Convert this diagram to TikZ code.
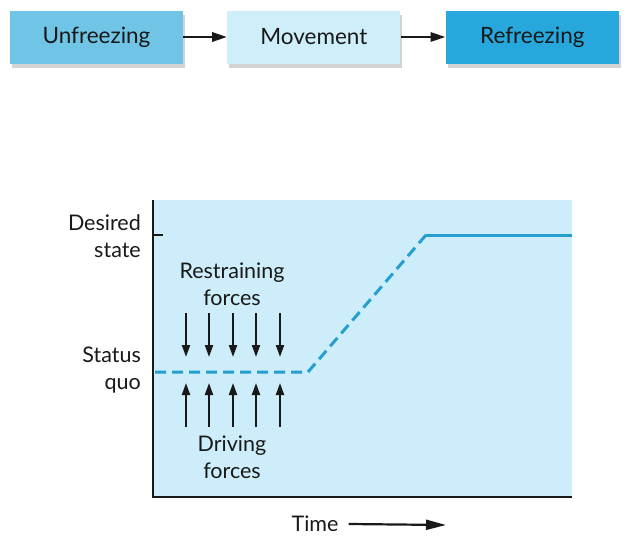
\documentclass[tikz,border=0pt]{standalone}
\usepackage{fontspec}
\setmainfont{Lato}
\usepackage{tikz}
\usetikzlibrary{arrows.meta,positioning,shadows}
\definecolor{unfreezeblue}{RGB}{112,196,230}
\definecolor{moveblue}{RGB}{206,238,250}
\definecolor{refreezeblue}{RGB}{38,168,220}
\definecolor{plotbg}{RGB}{204,237,249}
\definecolor{lineblue}{RGB}{38,158,208}
\definecolor{inkgray}{RGB}{25,25,25}

\tikzset{
    phasebox/.style={minimum width=173pt, minimum height=53pt, inner sep=0pt,
        font=\fontsize{22.5}{26}\selectfont, text=inkgray,
        drop shadow={shadow xshift=2pt, shadow yshift=-4pt, opacity=0.35}},
    flowarrow/.style={-{Triangle[length=15pt,width=9pt]}, line width=2.8pt, draw=inkgray},
    forcearrow/.style={-{Triangle[length=12pt,width=8pt]}, line width=2pt, draw=inkgray},
    axislabel/.style={font=\fontsize{21.5}{27}\selectfont, text=inkgray, align=center, inner sep=0pt},
    pathline/.style={line width=3pt, draw=lineblue}
}

\begin{document}
\begin{tikzpicture}[x=1pt,y=-1pt]
    \useasboundingbox (0,0) rectangle (627,546);

    % --- Top: the three phases ---
    \node[phasebox, fill=unfreezeblue] (unfreeze) at (96.5,37) {Unfreezing};
    \node[phasebox, fill=moveblue, right=44pt of unfreeze] (movement) {Movement};
    \node[phasebox, fill=refreezeblue, right=45pt of movement] (refreeze) {Refreezing};
    \draw[flowarrow] (unfreeze) -- (movement);
    \draw[flowarrow] (movement) -- (refreeze);

    % --- Bottom: force field plot ---
    \coordinate (origin) at (153,497);
    \coordinate (ytop) at (153,200);
    \coordinate (xend) at (572,497);
    \fill[plotbg] (153,200) rectangle (572,497);
    \draw[line width=2.6pt, draw=inkgray] (ytop) -- (origin) -- (xend);
    \draw[line width=1.4pt, draw=inkgray] (153,235) -- (163,235);

    % status quo, change, desired state
    \coordinate (sq) at (155,372);
    \coordinate (bend) at (308,372);
    \coordinate (reach) at (426,235);
    \coordinate (dsend) at (572,235);
    \draw[pathline, dash pattern=on 11pt off 6pt] (sq) -- (bend) -- (reach);
    \draw[pathline] (reach) -- (dsend);

    \foreach \xi in {186,209,233,256,280} {
        \draw[forcearrow] (\xi,313) -- (\xi,357);
        \draw[forcearrow] (\xi,427) -- (\xi,383);
    }
    \node[axislabel] (restrain) at (232,284) {Restraining\\forces};
    \node[axislabel] (driving) at (232,457) {Driving\\forces};

    \node[axislabel, align=right, anchor=east] (desired) at (141,236) {Desired\\state};
    \node[axislabel, align=right, anchor=east] (status) at (141,370) {Status\\quo};

    \node[axislabel] (time) at (315,524) {Time};
    \coordinate (timeend) at (446,525);
    \draw[forcearrow, line width=2.2pt, -{Triangle[length=20pt,width=10pt]}] ([xshift=10pt]time.east) -- (timeend);
\end{tikzpicture}
\end{document}
